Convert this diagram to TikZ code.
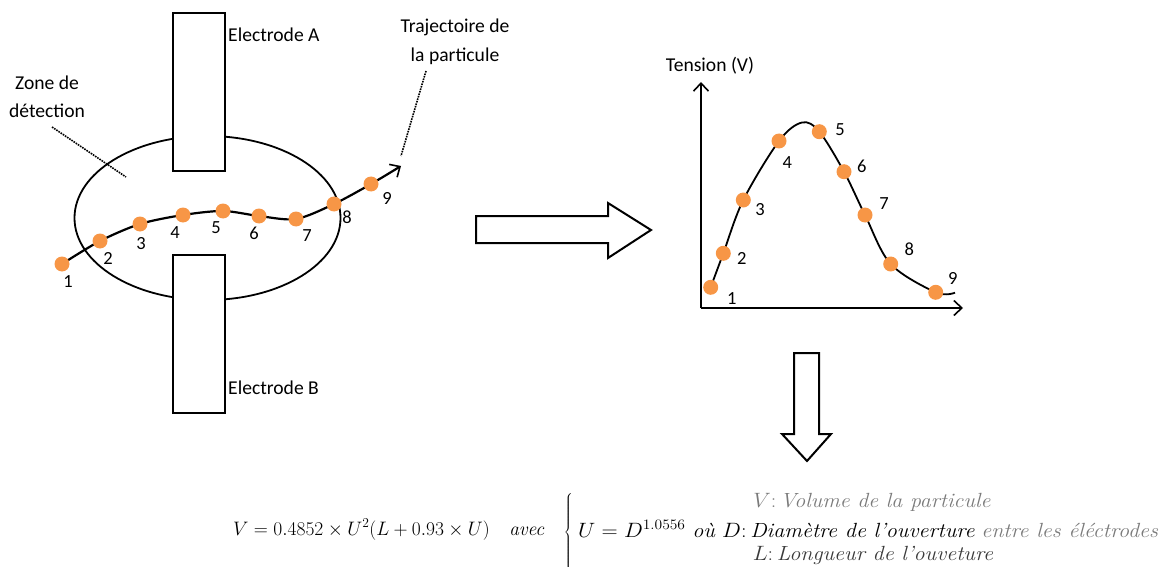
\documentclass[tikz,border=0pt]{standalone}
\usepackage[no-math]{fontspec}
\newfontfamily\calib{Carlito}
\usetikzlibrary{arrows.meta}
\definecolor{dotor}{HTML}{F79646}
\definecolor{txtgray}{HTML}{7A7A7A}
\definecolor{txtdark}{HTML}{3A3A3A}
\tikzset{
  lbl/.style={font=\calib\fontsize{19.6}{22}\selectfont, inner sep=0pt},
  num/.style={font=\calib\fontsize{18.5}{20}\selectfont, inner sep=0pt},
  dot/.style={circle, fill=dotor, minimum size=15pt, inner sep=0pt},
  elec/.style={draw, line width=2pt, fill=white, minimum width=52pt, minimum height=158pt, anchor=north west, inner sep=0pt},
  blockarrow/.style={draw, line width=2pt, fill=white, line join=miter},
  traj/.style={line width=2.2pt},
  pointer/.style={densely dotted, line width=1.6pt},
  barb/.style={-{Straight Barb[length=8pt,width=15pt,line width=1.6pt]}},
  axis/.style={line width=2pt, barb},
  fml/.style={font=\fontsize{20.5}{24}\selectfont, inner sep=0pt},
}
\begin{document}
\begin{tikzpicture}[x=1pt,y=-1pt]
\useasboundingbox (0,0) rectangle (1173,567);

% detection zone
\draw[line width=1.8pt] (207.5,218) ellipse [x radius=133pt, y radius=82pt];
\node[elec] (elA) at (172,12) {};
\node[elec] (elB) at (172,254) {};
\node[lbl, anchor=west] (tA) at (228,35) {Electrode A};
\node[lbl, anchor=west] (tB) at (228,388) {Electrode B};

% labels with pointers
\node[lbl, align=center, font=\calib\fontsize{19.6}{28}\selectfont] (zone) at (47,97) {Zone de\\détection};
\coordinate (zp1) at (52,127);
\coordinate (zp2) at (126,177);
\draw[pointer] (zp1) -- (zp2);
\node[lbl, align=center, font=\calib\fontsize{19.6}{29}\selectfont] (traj) at (455,42) {Trajectoire de\\la particule};
\coordinate (tp1) at (426,71);
\coordinate (tp2) at (401,156);
\draw[pointer] (tp1) -- (tp2);

% trajectory
\coordinate (c1) at (62,264);
\coordinate (c2) at (100,241);
\coordinate (c3) at (140,224);
\coordinate (c4) at (183,215);
\coordinate (c5) at (223,211);
\coordinate (c6) at (259,216);
\coordinate (c7) at (296,219);
\coordinate (c8) at (334,204);
\coordinate (c9) at (371,184);
\coordinate (ctip) at (401,166);
\draw[traj, barb] plot[smooth, tension=0.5] coordinates {(c1) (c2) (c3) (c4) (c5) (c6) (c7) (c8) (c9) (ctip)};
\foreach \i in {1,...,9} { \node[dot] (d\i) at (c\i) {}; }
\node[num] (n1) at (68,282) {1};
\node[num] (n2) at (108,258) {2};
\node[num] (n3) at (141,244) {3};
\node[num] (n4) at (175,233) {4};
\node[num] (n5) at (216,228) {5};
\node[num] (n6) at (254,233) {6};
\node[num] (n7) at (307,236) {7};
\node[num] (n8) at (347,217) {8};
\node[num] (n9) at (387,198) {9};

% right block arrow
\draw[blockarrow] (476,216) -- (608,216) -- (608,203) -- (651,230) -- (608,258) -- (608,243) -- (476,243) -- cycle;

% graph
\coordinate (o) at (701,308);
\coordinate (ytop) at (701,82);
\coordinate (xend) at (963,308);
\draw[axis] (o) -- (ytop);
\draw[axis] (o) -- (xend);
\node[lbl] (ylab) at (710,66) {Tension (V)};
\coordinate (g1) at (710.7,287.3);
\coordinate (g2) at (723.3,253.3);
\coordinate (g3) at (743.3,200);
\coordinate (g4) at (779,141);
\coordinate (gpk) at (802,122.5);
\coordinate (g5) at (819.3,131.7);
\coordinate (g6) at (844,171.7);
\coordinate (g7) at (865,215);
\coordinate (g8) at (890.7,264);
\coordinate (g9) at (935.7,292.3);
\coordinate (gend) at (955,292.7);
\draw[line width=1.8pt] plot[smooth, tension=0.55] coordinates {(g1) (g2) (g3) (g4) (gpk) (g5) (g6) (g7) (g8) (g9) (gend)};
\foreach \i in {1,...,9} { \node[dot] (p\i) at (g\i) {}; }
\node[num] (m1) at (731.7,298.3) {1};
\node[num] (m2) at (741.7,258.3) {2};
\node[num] (m3) at (760,210) {3};
\node[num] (m4) at (787.3,162.7) {4};
\node[num] (m5) at (840,129.3) {5};
\node[num] (m6) at (861.7,166.7) {6};
\node[num] (m7) at (884,203.3) {7};
\node[num] (m8) at (909.3,249.3) {8};
\node[num] (m9) at (952.7,278.3) {9};

% down block arrow
\draw[blockarrow] (794,353) -- (819,353) -- (819,434) -- (831,434) -- (807,461) -- (782,434) -- (794,434) -- cycle;

% formula
\node[fml, anchor=base west] (feq) at (233,535) {\scalebox{0.94}{$V=0.4852\times U^2(L+0.93\times U)\quad \mathit{avec}$}};
\node[fml, anchor=center, font=\fontsize{23}{26}\selectfont] (brace) at (569,532) {$\left\{\vcenter{\hbox{\rule{0pt}{80pt}}}\right.$};
\node[fml, anchor=base, text=txtgray] (l1) at (872,507) {\scalebox{1.07}[1]{$V$:\,\textit{Volume de la particule}}};
\node[fml, anchor=base west] (l2) at (578,537) {\scalebox{1.08}[1]{$U=D^{1.0556}$ \textit{où} $D$:\,\textit{Diamètre de l'ouverture} \textcolor{txtgray}{\textit{entre les éléctrodes}}}};
\node[fml, anchor=base, text=txtdark] (l3) at (873,560) {\scalebox{1.08}[1]{$L$:\,\textit{Longueur de l'ouveture}}};
\end{tikzpicture}
\end{document}
